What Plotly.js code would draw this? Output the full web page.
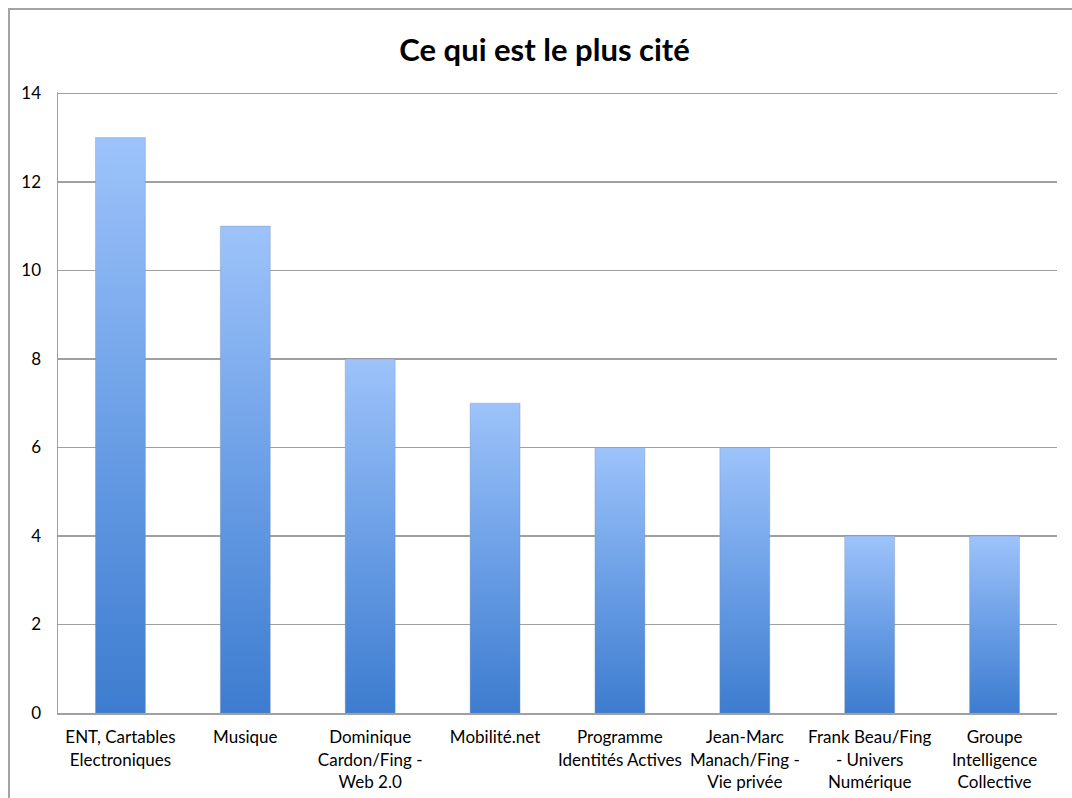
<!DOCTYPE html>
<html>
<head>
<meta charset="utf-8">
<script src="https://cdn.plot.ly/plotly-3.0.1.min.js"></script>
<style>
  html, body { margin: 0; padding: 0; background: #fff; }
  #wrap { position: relative; width: 1072px; height: 798px; overflow: hidden; }
  #chart { width: 1072px; height: 798px; }
  #frame { position: absolute; left: 8px; top: 8px; width: 1200px; height: 1000px;
           border: 2px solid #a3a3a3; pointer-events: none; box-sizing: border-box; }
</style>
</head>
<body>
<div id="wrap">
  <div id="chart"></div>
  <div id="frame"></div>
</div>
<script>
const categories = [
  "ENT, Cartables<br>Electroniques",
  "Musique",
  "Dominique<br>Cardon/Fing -<br>Web 2.0",
  "Mobilité.net",
  "Programme<br>Identités Actives",
  "Jean-Marc<br>Manach/Fing -<br>Vie privée",
  "Frank Beau/Fing<br>- Univers<br>Numérique",
  "Groupe<br>Intelligence<br>Collective"
];
const counts = [13, 11, 8, 7, 6, 6, 4, 4];
const yTicks = [0, 2, 4, 6, 8, 10, 12, 14];
const titleText = "Ce qui est le plus cité";

const font = "Lato, 'Open Sans', sans-serif";

const trace = {
  type: "bar",
  x: categories,
  y: counts,
  marker: { color: "#6a9fe6", line: { width: 0 } },
  hoverinfo: "none"
};

const layout = {
  width: 1072, height: 798,
  margin: { l: 58, r: 15, t: 92, b: 85 },
  paper_bgcolor: "#fff", plot_bgcolor: "#fff",
  showlegend: false,
  bargap: 0.6,
  title: { text: "<b>" + titleText + "</b>", x: 0.508, xanchor: "center", y: 0.937, yanchor: "middle",
           font: { family: font, size: 31, color: "#000" } },
  xaxis: {
    type: "category",
    showgrid: false, zeroline: false,
    showline: true, linecolor: "#a0a0a0", linewidth: 2,
    ticks: "", ticklabelstandoff: 8,
    tickfont: { family: font, size: 17, color: "#000" },
    fixedrange: true
  },
  yaxis: {
    range: [0, 14.03],
    tickvals: yTicks, ticktext: yTicks.map(String),
    showgrid: true, gridcolor: "#a0a0a0", gridwidth: 1.5,
    zeroline: false,
    showline: true, linecolor: "#a0a0a0", linewidth: 1.5,
    ticks: "", ticklabelstandoff: 12,
    tickfont: { family: font, size: 17, color: "#000" },
    fixedrange: true
  }
};

Plotly.newPlot("chart", [trace], layout, { displayModeBar: false, staticPlot: true }).then(function (gd) {
  const svg = gd.querySelector("svg.main-svg");
  const ns = "http://www.w3.org/2000/svg";
  let defs = svg.querySelector("defs");
  if (!defs) { defs = document.createElementNS(ns, "defs"); svg.insertBefore(defs, svg.firstChild); }
  const grad = document.createElementNS(ns, "linearGradient");
  grad.setAttribute("id", "barGrad");
  grad.setAttribute("x1", "0"); grad.setAttribute("y1", "0");
  grad.setAttribute("x2", "0"); grad.setAttribute("y2", "1");
  [["0", "#9dc3fa"], ["0.5", "#6b9fe6"], ["1", "#3d7ccf"]].forEach(function (s) {
    const st = document.createElementNS(ns, "stop");
    st.setAttribute("offset", s[0]); st.setAttribute("stop-color", s[1]);
    grad.appendChild(st);
  });
  defs.appendChild(grad);
  gd.querySelectorAll(".bars .point path").forEach(function (p) {
    p.style.fill = "url(#barGrad)";
    p.style.stroke = "rgba(120,140,170,0.35)";
    p.style.strokeWidth = "1px";
  });
});
</script>
</body>
</html>
